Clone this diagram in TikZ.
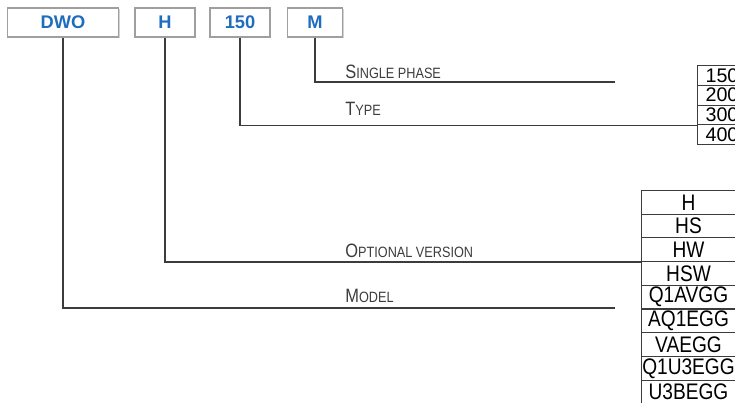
\documentclass[tikz,border=0pt]{standalone}
\usepackage{fontspec}
\setmainfont{Liberation Sans}
\newfontfamily\narrowfont[FakeStretch=0.85]{Liberation Sans}
\usepackage{tikz}
\usetikzlibrary{positioning,shadows}
\usepackage{xcolor}
\definecolor{codeblue}{HTML}{1F6DBE}
\definecolor{linegray}{HTML}{3C3C3C}
\newcommand{\smc}[2]{{\fontsize{11}{13}\selectfont #1}{\fontsize{8.5}{10}\selectfont #2}}
\tikzset{
  codebox/.style={draw=gray!75, line width=0.7pt, fill=white, minimum height=0.58cm, inner sep=0pt,
    font=\fontsize{10.4}{12}\selectfont\bfseries, text=codeblue,
    drop shadow={shadow xshift=0.6pt, shadow yshift=-0.6pt, opacity=0.35}},
  cella/.style={draw=linegray, line width=0.6pt, anchor=north west, minimum width=0.98cm, minimum height=0.395cm,
    inner sep=0pt, font=\fontsize{11.2}{13}\selectfont},
  cellb/.style={draw=linegray, line width=0.6pt, anchor=north west, minimum width=1.88cm, minimum height=0.474cm,
    inner sep=0pt, font=\narrowfont\fontsize{12.8}{14}\selectfont},
  lbl/.style={anchor=base west, inner sep=0pt, font=\narrowfont, text=linegray},
  conn/.style={draw=linegray, line width=0.75pt}
}
\begin{document}
\begin{tikzpicture}[x=0.02cm, y=-0.02cm]
    \useasboundingbox (0,0) rectangle (735,403);
    \clip (0,0) rectangle (735,403);
    % code boxes
    \node[codebox, minimum width=2.22cm] (dwo) at (63,22.5) {DWO};
    \node[codebox, minimum width=1.2cm] (h) at (165,22.5) {H};
    \node[codebox, minimum width=1.2cm] (t150) at (240,22.5) {150};
    \node[codebox, minimum width=1.1cm] (m) at (315,22.5) {M};
    % type table
    \node[cella] (c150) at (697,65) {150};
    \node[cella] (c200) at (697,84.75) {200};
    \node[cella] (c300) at (697,104.5) {300};
    \node[cella] (c400) at (697,124.25) {400};
    % version table
    \node[cellb] (vh) at (641,190) {H};
    \node[cellb] (vhs) at (641,213.7) {HS};
    \node[cellb] (vhw) at (641,237.4) {HW};
    \node[cellb] (vhsw) at (641,261.1) {HSW};
    \node[cellb] (vq1avgg) at (641,284.8) {Q1AVGG};
    \node[cellb] (vaq1egg) at (641,308.5) {AQ1EGG};
    \node[cellb] (vvaegg) at (641,332.2) {VAEGG};
    \node[cellb] (vq1u3egg) at (641,355.9) {Q1U3EGG};
    \node[cellb] (vu3begg) at (641,379.6) {U3BEGG};
    % free line ends
    \coordinate (phaseend) at (615,82);
    \coordinate (modelend) at (615,308);
    % labels
    \node[lbl] (lphase) at (345,78) {\smc{S}{INGLE PHASE}};
    \node[lbl] (ltype) at (345,115) {\smc{T}{YPE}};
    \node[lbl] (lversion) at (345,257) {\smc{O}{PTIONAL VERSION}};
    \node[lbl] (lmodel) at (345,302) {\smc{M}{ODEL}};
    % connectors
    \draw[conn] (m.south) |- (phaseend);
    \draw[conn] (t150.south) |- (c300.south west);
    \draw[conn] (h.south) |- (vhw.south west);
    \draw[conn] (dwo.south) |- (modelend);
\end{tikzpicture}
\end{document}
